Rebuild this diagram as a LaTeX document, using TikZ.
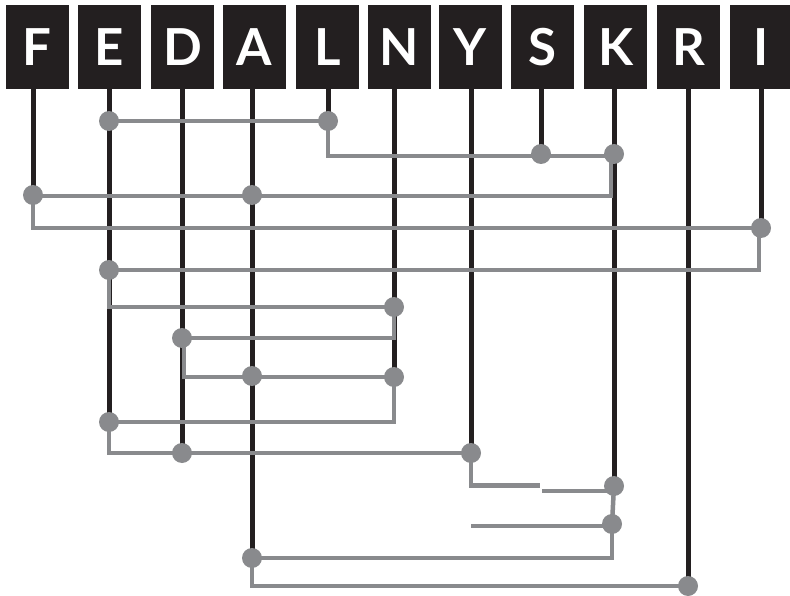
\documentclass[tikz,border=0pt]{standalone}
\usepackage{fontspec}
\setmainfont{Lato}
\usetikzlibrary{calc}
\definecolor{ink}{HTML}{231F20}
\definecolor{wirec}{HTML}{898A8D}
\begin{document}
\begin{tikzpicture}[x=1pt,y=-1pt,
  letterbox/.style={fill=ink, minimum width=63pt, minimum height=84pt, inner sep=0pt,
    text=white, font=\fontsize{51}{51}\selectfont\bfseries},
  stem/.style={draw=ink, line width=5pt},
  wire/.style={draw=wirec, line width=4.5pt},
  dot/.style={circle, fill=wirec, minimum size=20pt, inner sep=0pt},
]
\useasboundingbox (0,0) rectangle (790,596);
\fill[white] (0,0) rectangle (790,596);

% letter boxes
\node[letterbox] (bF) at (37,47) {F};
\node[letterbox] (bE) at (109.5,47) {E};
\node[letterbox] (bD) at (182.5,47) {D};
\node[letterbox] (bA) at (254.5,47) {A};
\node[letterbox] (bL) at (327.5,47) {L};
\node[letterbox] (bN) at (399.5,47) {N};
\node[letterbox] (bY) at (470.5,47) {Y};
\node[letterbox] (bS) at (542.5,47) {S};
\node[letterbox] (bK) at (615.5,47) {K};
\node[letterbox] (bR) at (688.5,47) {R};
\node[letterbox] (bI) at (761.5,47) {I};

% junction points
\coordinate (F1) at (33,195);
\coordinate (E1) at (109,121);
\coordinate (E2) at (109,270);
\coordinate (E3) at (109,422);
\coordinate (D1) at (182,338);
\coordinate (D2) at (182,453);
\coordinate (A1) at (252,195);
\coordinate (A2) at (252,376);
\coordinate (A3) at (252,558);
\coordinate (L1) at (328,121);
\coordinate (N1) at (394,307);
\coordinate (N2) at (394,377);
\coordinate (Y1) at (471,453);
\coordinate (S1) at (541,154);
\coordinate (K1) at (614,154);
\coordinate (K2) at (614,486);
\coordinate (K3) at (612,524);
\coordinate (R1) at (688,586);
\coordinate (I1) at (761,228);
\coordinate (Ybreak) at (540,485.5);
\coordinate (Kstart) at (542,491);
\coordinate (Yfree) at (471,526);

% black stems
\draw[stem] (bF.south -| F1) -- (F1);
\draw[stem] (bE.south -| E1) -- (E3);
\draw[stem] (bD.south -| D1) -- (D2);
\draw[stem] (bA.south -| A1) -- (A3);
\draw[stem] (bL.south -| L1) -- (L1);
\draw[stem] (bN.south -| N1) -- (N2);
\draw[stem] (bY.south -| Y1) -- (Y1);
\draw[stem] (bS.south -| S1) -- (S1);
\draw[stem] (bK.south -| K1) -- (K2);
\draw[stem] (bR.south -| R1) -- (R1);
\draw[stem] (bI.south -| I1) -- (I1);

% grey wires
\draw[wire] (E1) -- (L1);
\draw[wire] (L1) |- ($(K1)+(0,2)$);
\draw[wire] ($(K1)+(-3,0)$) |- ($(F1)+(0,1)$);
\draw[wire] (F1) |- (I1);
\draw[wire] ($(I1)+(-2,0)$) |- (E2);
\draw[wire] (E2) |- (N1);
\draw[wire] (N1) |- (D1);
\draw[wire] ($(D1)+(2,0)$) |- (N2);
\draw[wire] (N2) |- (E3);
\draw[wire] (E3) |- (Y1);
\draw[wire] (Y1) |- (Ybreak);
\draw[wire] (Kstart) -- (Kstart -| K2);
\draw[wire] (K2) -- (K3);
\draw[wire] (Yfree) -- (Yfree -| K3);
\draw[wire] (K3) |- (A3);
\draw[wire] (A3) |- (R1);

% dots
\foreach \p in {F1,E1,E2,E3,D1,D2,A1,A2,A3,L1,N1,N2,Y1,S1,K1,K2,K3,R1,I1}
  \node[dot] (d\p) at (\p) {};
\end{tikzpicture}
\end{document}
